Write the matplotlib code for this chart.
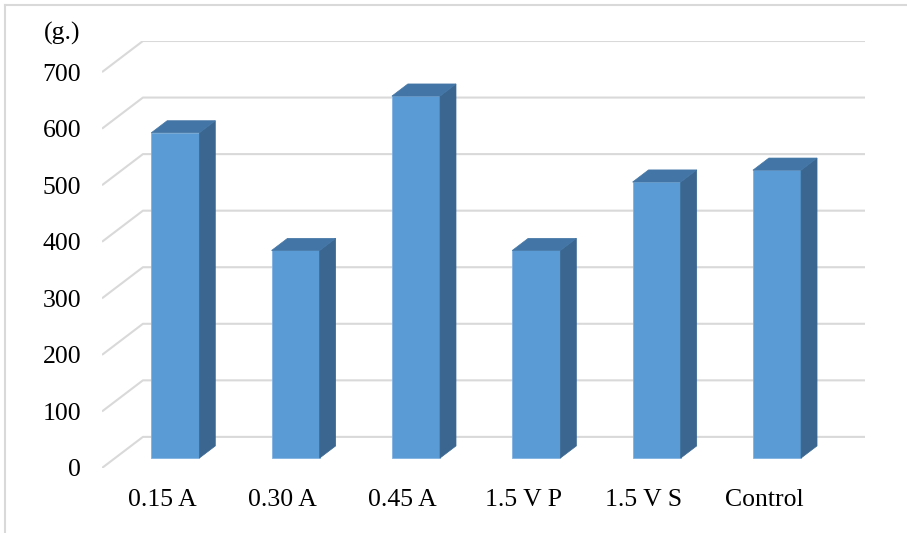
import matplotlib
matplotlib.use("Agg")
import matplotlib.pyplot as plt
from matplotlib.patches import Polygon, Rectangle
from matplotlib.lines import Line2D

categories = ["0.15 A", "0.30 A", "0.45 A", "1.5 V P", "1.5 V S", "Control"]
weights = [575, 367, 640, 367, 488, 509]
y_ticks = [0, 100, 200, 300, 400, 500, 600, 700]
unit_label = "(g.)"

front_color = "#5B9BD5"
top_color = "#4376A6"
side_color = "#3A6690"
grid_color = "#D9D9D9"

# fake 3d depth, in data units
depth_x = 0.34
depth_y = 55
bar_w = 0.40
f0, f1 = 0.32, 0.71

plt.rcParams["font.family"] = ["Liberation Serif", "DejaVu Serif"]

W, H = 907, 533
fig = plt.figure(figsize=(W / 100, H / 100), dpi=100)
ax = fig.add_axes([102 / W, (H - 468) / H, (865 - 102) / W, (468 - 41) / H])
ax.set_xlim(-0.5, len(categories) - 0.5 + depth_x)
ax.set_ylim(0, max(y_ticks) + depth_y)

# perspective gridlines
for v in y_ticks:
    ax.plot([-0.5, -0.5 + depth_x, len(categories) - 0.5 + depth_x],
            [v, v + depth_y, v + depth_y], color=grid_color, lw=1.5, zorder=1,
            solid_capstyle="butt")

ddx = (f1 - f0) * depth_x
ddy = (f1 - f0) * depth_y
for i, v in enumerate(weights):
    x0 = i - bar_w / 2 + f0 * depth_x
    y0 = f0 * depth_y
    ax.add_patch(Rectangle((x0, y0), bar_w, v, facecolor=front_color,
                           edgecolor="#7FB2E0", lw=0.6, zorder=3))
    side = [(x0 + bar_w, y0), (x0 + bar_w + ddx, y0 + ddy),
            (x0 + bar_w + ddx, y0 + v + ddy), (x0 + bar_w, y0 + v)]
    ax.add_patch(Polygon(side, closed=True, facecolor=side_color,
                         edgecolor=side_color, lw=0.5, zorder=3))
    top = [(x0, y0 + v), (x0 + bar_w, y0 + v),
           (x0 + bar_w + ddx, y0 + v + ddy), (x0 + ddx, y0 + v + ddy)]
    ax.add_patch(Polygon(top, closed=True, facecolor=top_color,
                         edgecolor=top_color, lw=0.5, zorder=3))

ax.set_yticks(y_ticks)
ax.set_yticklabels([str(t) for t in y_ticks], fontsize=18.5)
ax.set_xticks(range(len(categories)))
ax.set_xticklabels(categories, fontsize=18.5)
ax.tick_params(axis="y", length=0, pad=15)
ax.tick_params(axis="x", length=0, pad=15)
for s in ax.spines.values():
    s.set_visible(False)

fig.text(80 / W, 1 - 33 / H, unit_label, ha="right", va="center", fontsize=18.5)

# chart area border (top and left only visible)
fig.add_artist(Line2D([5 / W, 1], [1 - 5 / H, 1 - 5 / H], color=grid_color, lw=1.5))
fig.add_artist(Line2D([5 / W, 5 / W], [0, 1 - 5 / H], color=grid_color, lw=1.5))

fig.savefig("out.png", dpi=100)
